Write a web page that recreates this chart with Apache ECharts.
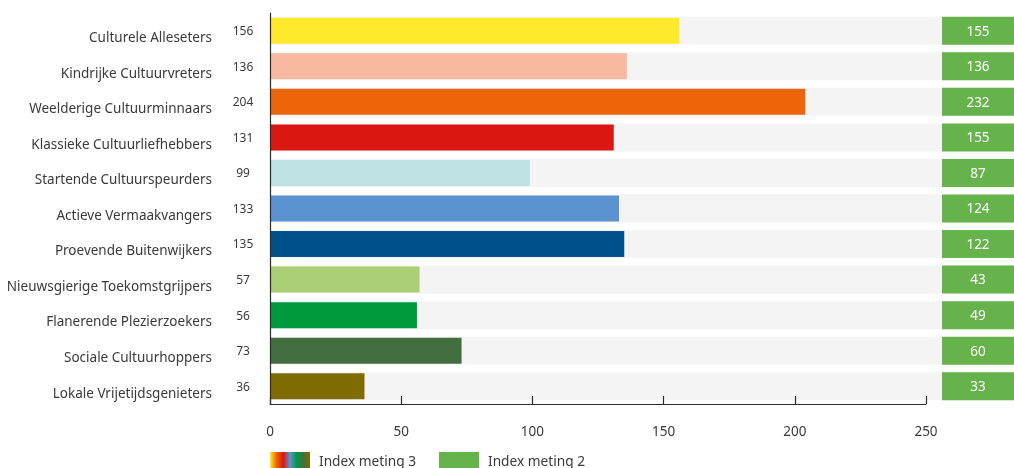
<!DOCTYPE html>
<html>
<head>
<meta charset="utf-8">
<script src="https://cdn.jsdelivr.net/npm/echarts@6/dist/echarts.min.js"></script>
<style>
  html, body { margin: 0; padding: 0; background: #fff; }
  #chart { width: 1014px; height: 468px; }
</style>
</head>
<body>
<div id="chart"></div>
<script>
// Segment names, top to bottom
const categories = [
  'Culturele Alleseters',
  'Kindrijke Cultuurvreters',
  'Weelderige Cultuurminnaars',
  'Klassieke Cultuurliefhebbers',
  'Startende Cultuurspeurders',
  'Actieve Vermaakvangers',
  'Proevende Buitenwijkers',
  'Nieuwsgierige Toekomstgrijpers',
  'Flanerende Plezierzoekers',
  'Sociale Cultuurhoppers',
  'Lokale Vrijetijdsgenieters'
];
// Index meting 3 (bars)
const meting3 = [156, 136, 204, 131, 99, 133, 135, 57, 56, 73, 36];
// Index meting 2 (green cells)
const meting2 = [155, 136, 232, 155, 87, 124, 122, 43, 49, 60, 33];
// Segment colours
const segmentColors = [
  '#FFE92C', '#F9B9A1', '#EC6508', '#DA1710', '#BEE2E3', '#5B93D1',
  '#00518A', '#ABCF74', '#009A3E', '#426E40', '#7E6C00'
];
const xTicks = [0, 50, 100, 150, 200, 250];

const FONT = 'Noto Sans';
const TEXT = '#3a3a3a';
const GREEN = '#66B34C';
const GREY = '#F4F4F4';

const chart = echarts.init(document.getElementById('chart'), null, { renderer: 'canvas' });

// Legend swatch for the segment bars: a blend of the strong segment colours
const swatchColors = ['#FFE92C', '#EC6508', '#DA1710', '#5B93D1', '#009A3E', '#426E40', '#7E6C00'];
const legendGradient = new echarts.graphic.LinearGradient(0, 0, 1, 0,
  swatchColors.map((c, i) => ({ offset: i / (swatchColors.length - 1), color: c })));

const rowsTop = 13, rowsHeight = 391;

chart.setOption({
  animation: false,
  textStyle: { fontFamily: FONT },
  grid: [
    { left: 270, top: rowsTop, width: 656, height: rowsHeight },
    { left: 270, top: rowsTop, right: 0, height: rowsHeight },
    { left: 942, top: rowsTop, right: 0, height: rowsHeight }
  ],
  xAxis: [
    {
      gridIndex: 0, type: 'value', min: xTicks[0], max: xTicks[xTicks.length - 1], interval: 50,
      z: 5,
      splitLine: { show: false },
      axisLine: { show: true, lineStyle: { color: '#2b2b2b', width: 1.2 } },
      axisTick: { show: true, inside: true, length: 8, lineStyle: { color: '#2b2b2b', width: 1.2 } },
      axisLabel: { margin: 21, fontSize: 13.5, color: TEXT, fontFamily: FONT }
    },
    { gridIndex: 1, type: 'value', min: 0, max: 1, show: false },
    { gridIndex: 2, type: 'value', min: 0, max: 1, show: false }
  ],
  yAxis: [
    {
      gridIndex: 0, type: 'category', data: categories, inverse: true,
      z: 5,
      axisLine: { show: true, lineStyle: { color: '#2b2b2b', width: 1.2 } },
      axisTick: { show: false },
      axisLabel: {
        margin: 58, fontSize: 13.5, color: TEXT, fontFamily: FONT,
        verticalAlign: 'top', lineHeight: 15
      }
    },
    { gridIndex: 1, type: 'category', data: categories, inverse: true, show: false },
    { gridIndex: 2, type: 'category', data: categories, inverse: true, show: false }
  ],
  legend: {
    left: 270, top: 452, padding: 0,
    itemWidth: 40, itemHeight: 20, itemGap: 23,
    textStyle: { fontSize: 13.7, color: TEXT, fontFamily: FONT, padding: [0, 0, 0, 4] },
    data: [
      { name: 'Index meting 3', icon: 'rect', itemStyle: { color: legendGradient } },
      { name: 'Index meting 2', icon: 'rect', itemStyle: { color: GREEN } }
    ]
  },
  series: [
    {
      // row backgrounds
      name: 'rij', type: 'bar', xAxisIndex: 1, yAxisIndex: 1, z: 1,
      barWidth: 28, silent: true,
      itemStyle: { color: GREY },
      data: categories.map(() => 1)
    },
    {
      name: 'Index meting 3', type: 'bar', xAxisIndex: 0, yAxisIndex: 0, z: 3,
      barWidth: 26,
      data: meting3.map((v, i) => ({ value: v, itemStyle: { color: segmentColors[i] } })),
      label: {
        show: true, position: 'left', distance: 27, align: 'center',
        offset: [0, 1],
        fontSize: 12, color: TEXT, fontFamily: FONT
      }
    },
    {
      name: 'Index meting 2', type: 'custom', xAxisIndex: 2, yAxisIndex: 2, z: 3,
      itemStyle: { color: GREEN },
      data: meting2.map((v, i) => [0, i, v]),
      encode: { x: 0, y: 1 },
      renderItem(params, api) {
        const cs = params.coordSys;
        const c = api.coord([0, api.value(1)]);
        const h = 28;
        return {
          type: 'group',
          children: [
            { type: 'rect', shape: { x: cs.x, y: c[1] - h / 2, width: cs.width, height: h },
              style: { fill: GREEN } },
            { type: 'text', style: {
                text: String(api.value(2)), x: cs.x + cs.width / 2, y: c[1] + 1,
                align: 'center', verticalAlign: 'middle', fill: '#ffffff',
                font: '13.5px "' + FONT + '"' } }
          ]
        };
      }
    }
  ]
});
</script>
</body>
</html>
